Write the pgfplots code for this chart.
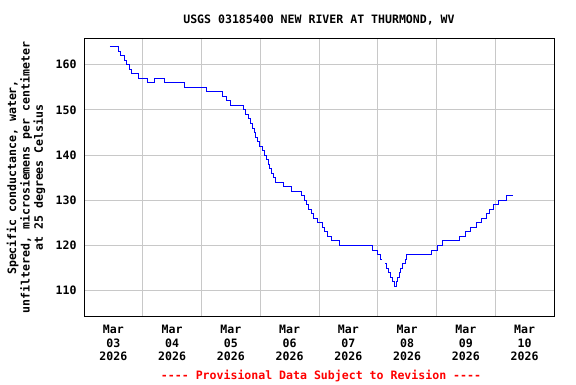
\documentclass[border=0pt]{standalone}
\usepackage{fontspec}
\setmonofont{DejaVu Sans Mono}
\usepackage{pgfplots}
\pgfplotsset{compat=1.18}
\definecolor{gridgray}{RGB}{200,200,200}
\newcommand{\usgsfont}{\ttfamily\bfseries\fontsize{11.6}{13.5}\selectfont}
\begin{document}
\begin{tikzpicture}[x=1bp,y=1bp]
\useasboundingbox (0,0) rectangle (576,384);
\begin{axis}[
  at={(84bp,68bp)}, anchor=south west,
  scale only axis, width=470bp, height=277bp,
  xmin=0, xmax=192, ymin=104.4, ymax=165.7,
  xtick={12,36,60,84,108,132,156,180},
  xticklabels={{Mar\\03\\2026},{Mar\\04\\2026},{Mar\\05\\2026},{Mar\\06\\2026},{Mar\\07\\2026},{Mar\\08\\2026},{Mar\\09\\2026},{Mar\\10\\2026}},
  minor xtick={24,48,72,96,120,144,168},
  xminorgrids=true, xmajorgrids=false,
  ytick={110,120,130,140,150,160},
  ymajorgrids=true,
  major tick length=0pt, minor tick length=0pt,
  grid style={draw=gridgray, line width=1bp},
  axis line style={line width=1bp},
  /pgf/number format/assume math mode=true,
  tick label style={font=\usgsfont},
  xticklabel style={align=center, anchor=north, yshift=-6bp},
  yticklabel style={xshift=-4bp},
  title={USGS 03185400 NEW RIVER AT THURMOND, WV},
  title style={font=\usgsfont, at={(axis description cs:0.5,1)}, anchor=center, yshift=13bp},
  ylabel={Specific conductance, water,\\unfiltered, microsiemens per centimeter\\at 25 degrees Celsius},
  ylabel style={font=\usgsfont, align=center, at={(axis description cs:-0.1234,0.5)}, anchor=center},
  unbounded coords=jump,
]
\addplot[const plot, color={rgb,255:red,0;green,0;blue,255}, line width=1bp] coordinates {
(10.62,164) (14.01,163) (15.11,162) (16.34,161) (17.44,160) (18.79,159) (19.49,158)
(22.18,157) (26.02,156) (29.00,157) (32.80,156) (40.97,155) (50.12,154) (56.66,153)
(58.01,152) (59.93,151) (65.24,150) (65.97,149) (67.00,148) (68.10,147) (68.75,146)
(69.57,145) (70.26,144) (70.79,143) (71.69,142) (72.84,141) (73.74,140) (74.64,139)
(75.29,138) (75.98,137) (76.68,136) (77.33,135) (78.23,134) (81.42,133) (84.85,132)
(88.65,131) (89.87,130) (90.69,129) (91.51,128) (92.73,127) (93.67,126) (95.47,125)
(97.35,124) (98.17,123) (99.47,122) (101.19,121) (104.29,120) (117.94,119) (119.82,118)
(120.92,117) (121.86,117) (122.4,nan)
(122.96,116) (123.65,115) (124.19,114) (125.13,113) (125.82,112) (126.92,111)
(127.46,112) (127.99,113) (128.68,114) (129.21,115) (129.91,116) (131.13,117)
(131.83,118) (141.88,119) (144.33,120) (146.37,121) (153.31,122) (155.64,123)
(157.69,124) (160.42,125) (162.18,126) (164.22,127) (165.57,128) (167.20,129)
(169.25,130) (172.39,131) (175.13,131)
};
\end{axis}
\node[font=\usgsfont, text={rgb,255:red,255;green,0;blue,0}, anchor=center] at (321,8.5) {---- Provisional Data Subject to Revision ----};
\end{tikzpicture}
\end{document}
